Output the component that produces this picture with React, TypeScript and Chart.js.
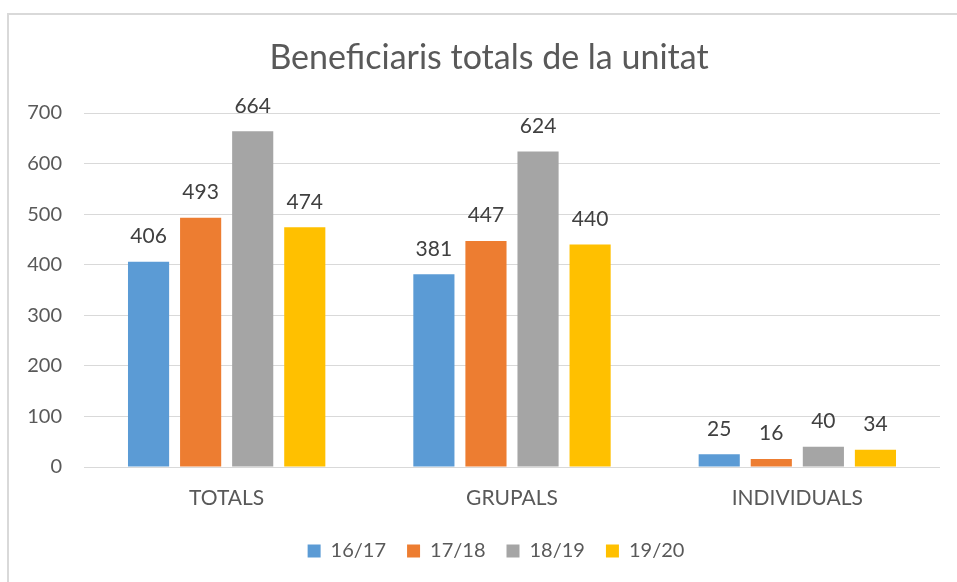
import React, { useEffect, useRef } from "react";
import { Chart, registerables } from "chart.js";

Chart.register(...registerables);

const categories = ["TOTALS", "GRUPALS", "INDIVIDUALS"];
const seriesNames = ["16/17", "17/18", "18/19", "19/20"];
const values1617 = [406, 381, 25];
const values1718 = [493, 447, 16];
const values1819 = [664, 624, 40];
const values1920 = [474, 440, 34];
const seriesColors = ["#5B9BD5", "#ED7D31", "#A5A5A5", "#FFC000"];
const yTicks = [0, 100, 200, 300, 400, 500, 600, 700];

const FONT = "Lato, 'Open Sans', sans-serif";

const valueLabels = {
  id: "valueLabels",
  afterDatasetsDraw(chart: any) {
    const ctx = chart.ctx;
    ctx.save();
    ctx.font = `21px ${FONT}`;
    ctx.fillStyle = "#404040";
    ctx.textAlign = "center";
    ctx.textBaseline = "alphabetic";
    chart.data.datasets.forEach((ds: any, di: number) => {
      const meta = chart.getDatasetMeta(di);
      meta.data.forEach((bar: any, i: number) => {
        ctx.fillText(String(ds.data[i]), bar.x, bar.y - 18.5);
      });
    });
    ctx.restore();
  },
};

const shiftBoxes = {
  id: "shiftBoxes",
  afterLayout(chart: any) {
    if (chart.legend) {
      chart.legend.left += 26;
      chart.legend.right += 26;
    }
    if (chart.titleBlock) {
      chart.titleBlock.left += 19;
      chart.titleBlock.right += 19;
    }
  },
};

export default function App() {
  const ref = useRef<HTMLCanvasElement>(null);
  useEffect(() => {
    if (!ref.current) return;
    const allSeries = [values1617, values1718, values1819, values1920];
    const chart = new Chart(ref.current, {
      type: "bar",
      data: {
        labels: categories,
        datasets: seriesNames.map((name, i) => ({
          label: name,
          data: allSeries[i],
          backgroundColor: seriesColors[i],
          borderWidth: 0,
          barPercentage: 0.79,
          categoryPercentage: 0.73,
        })),
      },
      options: {
        responsive: false,
        animation: false,
        devicePixelRatio: 1,
        layout: { padding: { left: 0, right: 17, bottom: 11, top: 0 } },
        scales: {
          x: {
            grid: { display: false, drawTicks: false },
            border: { display: false },
            ticks: {
              padding: 19,
              color: "#595959",
              font: { family: FONT, size: 21 },
            },
            afterFit(scale: any) {
              scale.height = 53;
            },
          },
          y: {
            min: 0,
            max: 700,
            afterBuildTicks(scale: any) {
              scale.ticks = yTicks.map((v) => ({ value: v }));
            },
            grid: { color: "#D9D9D9", lineWidth: 1, drawTicks: false },
            border: { display: false },
            ticks: {
              padding: 22,
              color: "#595959",
              font: { family: FONT, size: 20 },
            },
            afterFit(scale: any) {
              scale.width = 84;
            },
          },
        },
        plugins: {
          title: {
            display: true,
            text: "Beneficiaris totals de la unitat",
            color: "#595959",
            font: { family: FONT, size: 34, weight: "normal" },
            padding: { top: 37.6, bottom: 34.6 },
          },
          legend: {
            position: "bottom",
            labels: {
              color: "#595959",
              font: { family: FONT, size: 20 },
              boxWidth: 13,
              boxHeight: 13,
              padding: 21,
            },
          },
          tooltip: { enabled: false },
        },
      },
      plugins: [valueLabels, shiftBoxes],
    });
    return () => chart.destroy();
  }, []);

  return (
    <div style={{ position: "fixed", left: 0, top: 0, width: 957, height: 582, background: "#fff" }}>
      <div
        style={{
          position: "absolute",
          left: 7,
          top: 13,
          right: 0,
          bottom: 0,
          borderTop: "2px solid #D9D9D9",
          borderLeft: "2px solid #D9D9D9",
        }}
      />
      <canvas ref={ref} width={957} height={582} style={{ position: "absolute", left: 0, top: 0 }} />
    </div>
  );
}
